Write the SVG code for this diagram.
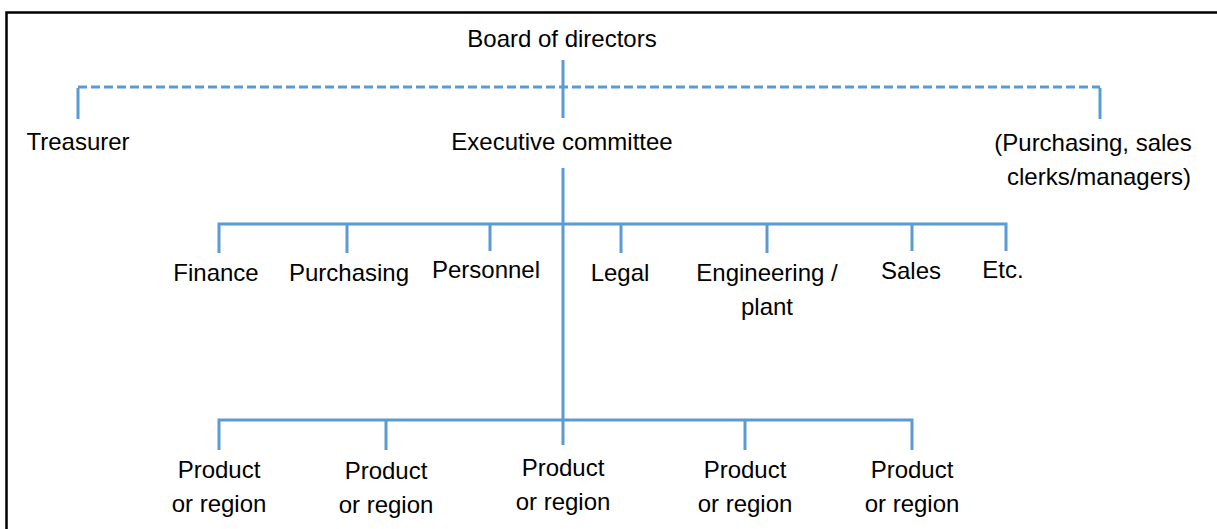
<svg xmlns="http://www.w3.org/2000/svg" width="1217" height="529" viewBox="0 0 1217 529">
<style>
text{font-family:"Liberation Sans",Arial,sans-serif;font-size:24px;fill:#000;text-anchor:middle}
.ln{stroke:#5B9BD5;stroke-width:3;fill:none}
.dash{stroke-dasharray:9 4}
</style>
<rect x="0" y="0" width="1217" height="529" fill="#fff"/>
<rect x="6.5" y="12.5" width="1230" height="540" fill="none" stroke="#000" stroke-width="2.5"/>
<g id="connectors">
<path class="ln" d="M563 60V118"/>
<path class="ln dash" d="M78 87H1100"/>
<path class="ln" d="M78 88V119M1100 88V119"/>
<path class="ln" d="M563 168V445"/>
<path class="ln" d="M219 253V224H1006V251M347 224V253M490 224V251M621 224V253M767 224V253M912 224V251"/>
<path class="ln" d="M219 450V420H912V450M386 420V450M745 420V450"/>
</g>
<g id="board"><text x="562" y="47">Board of directors</text></g>
<g id="treasurer"><text x="78" y="150">Treasurer</text></g>
<g id="executive"><text x="562" y="150">Executive committee</text></g>
<g id="purchasing-sales"><text x="1093" y="151">(Purchasing, sales</text><text x="1099" y="185">clerks/managers)</text></g>
<g id="finance"><text x="216" y="281">Finance</text></g>
<g id="purchasing"><text x="349" y="281">Purchasing</text></g>
<g id="personnel"><text x="486" y="278">Personnel</text></g>
<g id="legal"><text x="620" y="281">Legal</text></g>
<g id="engineering"><text x="767" y="281">Engineering /</text><text x="767" y="315">plant</text></g>
<g id="sales"><text x="911" y="279">Sales</text></g>
<g id="etc"><text x="1003" y="278">Etc.</text></g>
<g id="product1"><text x="219" y="478">Product</text><text x="219" y="512">or region</text></g>
<g id="product2"><text x="386" y="479">Product</text><text x="386" y="513">or region</text></g>
<g id="product3"><text x="563" y="476">Product</text><text x="563" y="510">or region</text></g>
<g id="product4"><text x="745" y="478">Product</text><text x="745" y="512">or region</text></g>
<g id="product5"><text x="912" y="478">Product</text><text x="912" y="512">or region</text></g>
</svg>
